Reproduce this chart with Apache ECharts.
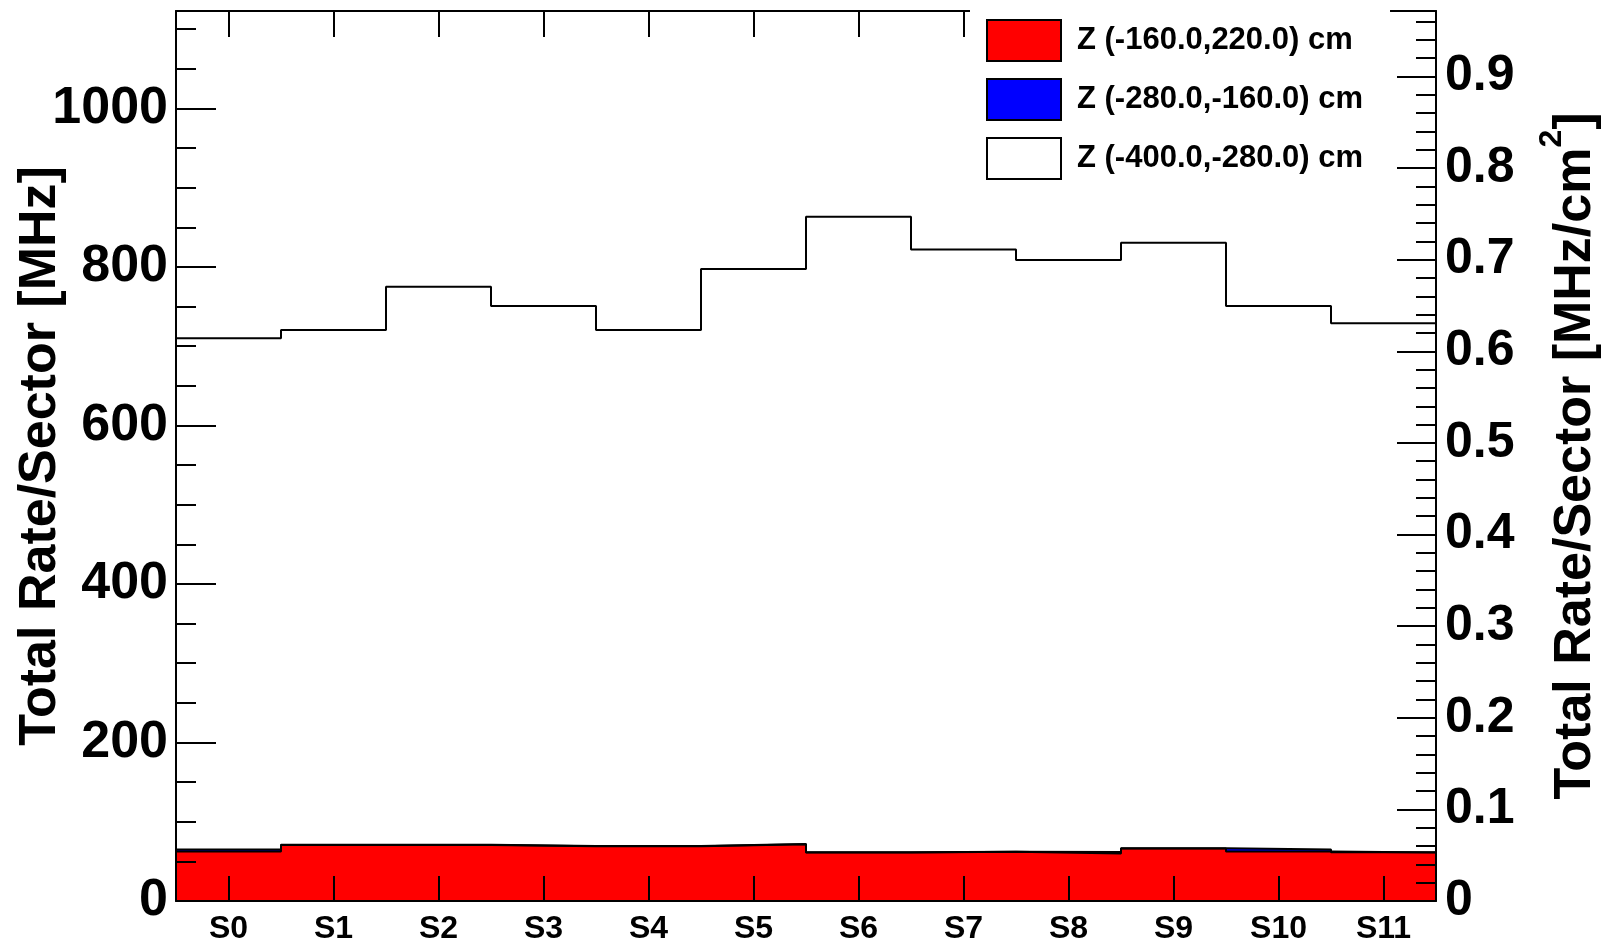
<!DOCTYPE html>
<html>
<head>
<meta charset="utf-8">
<script src="https://cdn.jsdelivr.net/npm/echarts@6/dist/echarts.min.js"></script>
<style>
html,body{margin:0;padding:0;background:#fff;}
#c{width:1614px;height:943px;}
</style>
</head>
<body>
<div id="c"></div>
<script>
// ---- data ----
const categories = ['S0','S1','S2','S3','S4','S5','S6','S7','S8','S9','S10','S11'];
const seriesNames = ['Z (-160.0,220.0) cm', 'Z (-280.0,-160.0) cm', 'Z (-400.0,-280.0) cm'];
// per-sector rates [MHz] for each Z slice (stacked in the plot)
const redRate   = [62.4, 70.8, 70.8, 69.1, 69.1, 71.5, 61.1, 62.0, 59.9, 66.2, 62.4, 61.1];
const blueRate  = [2.5, 0.3, 0.3, 0.3, 0.3, 0.3, 0.3, 0.3, 2.0, 0.3, 2.5, 0.3];
const whiteRate = [645.1, 649.4, 703.9, 681.3, 651.1, 725.6, 802.0, 759.9, 746.9, 764.1, 685.8, 667.6];
// axis ranges
const leftMax = 1123;        // MHz
const sectorArea = 1156;     // cm^2, right axis = left / area
const rightMax = leftMax / sectorArea;

// ---- build stacked step histograms ----
const cumRed = redRate.slice();
const cumBlue = redRate.map((v, i) => v + blueRate[i]);
const cumTotal = cumBlue.map((v, i) => v + whiteRate[i]);
function steps(v) {
  const pts = v.map((y, i) => [i, y]);
  pts.push([v.length, v[v.length - 1]]);
  return pts;
}

const FONT = 'Liberation Sans';
const black = '#000';
const axisLine = {show: true, onZero: false, lineStyle: {color: black, width: 2}};

const chart = echarts.init(document.getElementById('c'), null, {renderer: 'canvas'});

const option = {
  animation: false,
  backgroundColor: '#fff',
  textStyle: {fontFamily: FONT},
  grid: {left: 176, right: 178, top: 11, bottom: 42, containLabel: false, outerBoundsMode: 'none'},
  legend: {
    show: true,
    orient: 'vertical',
    left: 970,
    top: 0,
    padding: [19, 27, 11, 16],
    itemGap: 16,
    itemWidth: 74,
    itemHeight: 41,
    backgroundColor: '#fff',
    z: 10,
    selectedMode: false,
    icon: 'rect',
    itemStyle: {borderColor: black, borderWidth: 2},
    textStyle: {fontFamily: FONT, fontSize: 31, fontWeight: 'bold', color: black, padding: [0, 0, 0, 11]},
    data: [
      {name: seriesNames[0], icon: 'rect', itemStyle: {color: '#ff0000', borderColor: black, borderWidth: 2}},
      {name: seriesNames[1], icon: 'rect', itemStyle: {color: '#0000ff', borderColor: black, borderWidth: 2}},
      {name: seriesNames[2], icon: 'rect', itemStyle: {color: '#ffffff', borderColor: black, borderWidth: 2}}
    ]
  },
  xAxis: [
    {
      type: 'category', data: categories, position: 'bottom', boundaryGap: true, z: 5,
      axisLine: axisLine,
      axisTick: {show: true, inside: true, alignWithLabel: true, length: 25, lineStyle: {color: black, width: 2}},
      axisLabel: {show: true, interval: 0, margin: 12, color: black, fontSize: 32, fontWeight: 'bold', fontFamily: FONT},
      splitLine: {show: false}
    },
    {
      type: 'category', data: categories, position: 'top', boundaryGap: true, z: 5,
      axisLine: axisLine,
      axisTick: {show: true, inside: true, alignWithLabel: true, length: 26, lineStyle: {color: black, width: 2}},
      axisLabel: {show: false},
      splitLine: {show: false}
    },
    {type: 'value', min: 0, max: categories.length, show: false}
  ],
  yAxis: [
    {
      type: 'value', position: 'left', min: 0, max: leftMax, interval: 200, z: 5,
      axisLine: axisLine,
      axisTick: {show: true, inside: true, length: 40, lineStyle: {color: black, width: 2}},
      axisLabel: {show: true, margin: 8, color: black, fontSize: 52, fontWeight: 'bold', fontFamily: FONT, showMaxLabel: false,
        formatter: v => String(Math.round(v))},
      splitLine: {show: false},
      name: 'Total Rate/Sector [MHz]',
      nameLocation: 'middle', nameRotate: 90, nameGap: 109, nameMoveOverlap: false,
      nameTextStyle: {color: black, fontSize: 52, fontWeight: 'bold', fontFamily: FONT}
    },
    {
      type: 'value', position: 'left', min: 0, max: leftMax, interval: 50, z: 5,
      axisLine: {show: false, onZero: false},
      axisTick: {show: true, inside: true, length: 20, lineStyle: {color: black, width: 2}},
      axisLabel: {show: false},
      splitLine: {show: false}
    },
    {
      type: 'value', position: 'right', min: 0, max: rightMax, interval: 0.1, z: 5,
      axisLine: axisLine,
      axisTick: {show: true, inside: true, length: 39, lineStyle: {color: black, width: 2}},
      axisLabel: {show: true, margin: 9, color: black, fontSize: 50, fontWeight: 'bold', fontFamily: FONT, showMaxLabel: false,
        formatter: v => (Math.abs(v) < 1e-9 ? '0' : v.toFixed(1))},
      splitLine: {show: false},
      name: '{b|Total Rate/Sector [MHz/cm}{s|2}{b|]}',
      nameLocation: 'middle', nameRotate: 90, nameGap: 100, nameMoveOverlap: false,
      nameTextStyle: {
        color: black, fontFamily: FONT, fontWeight: 'bold', fontSize: 52,
        rich: {
          b: {fontSize: 52, fontWeight: 'bold', fontFamily: FONT, color: black, verticalAlign: 'bottom', lineHeight: 66},
          s: {fontSize: 32, fontWeight: 'bold', fontFamily: FONT, color: black, verticalAlign: 'top', lineHeight: 32}
        }
      }
    },
    {
      type: 'value', position: 'right', min: 0, max: rightMax, interval: 0.02, z: 5,
      axisLine: {show: false, onZero: false},
      axisTick: {show: true, inside: true, length: 20, lineStyle: {color: black, width: 2}},
      axisLabel: {show: false},
      splitLine: {show: false}
    }
  ],
  series: [
    {
      type: 'line', name: seriesNames[2], xAxisIndex: 2, yAxisIndex: 0, data: steps(cumTotal),
      step: 'end', symbol: 'none', silent: true, z: 2,
      itemStyle: {color: '#ffffff'},
      lineStyle: {color: black, width: 2},
      areaStyle: {color: '#ffffff', opacity: 1}
    },
    {
      type: 'line', name: seriesNames[1], xAxisIndex: 2, yAxisIndex: 0, data: steps(cumBlue),
      step: 'end', symbol: 'none', silent: true, z: 2,
      itemStyle: {color: '#0000ff'},
      lineStyle: {color: black, width: 2},
      areaStyle: {color: '#0000ff', opacity: 1}
    },
    {
      type: 'line', name: seriesNames[0], xAxisIndex: 2, yAxisIndex: 0, data: steps(cumRed),
      step: 'end', symbol: 'none', silent: true, z: 2,
      itemStyle: {color: '#ff0000'},
      lineStyle: {color: black, width: 2},
      areaStyle: {color: '#ff0000', opacity: 1}
    }
  ]
};
chart.setOption(option);
</script>
</body>
</html>
